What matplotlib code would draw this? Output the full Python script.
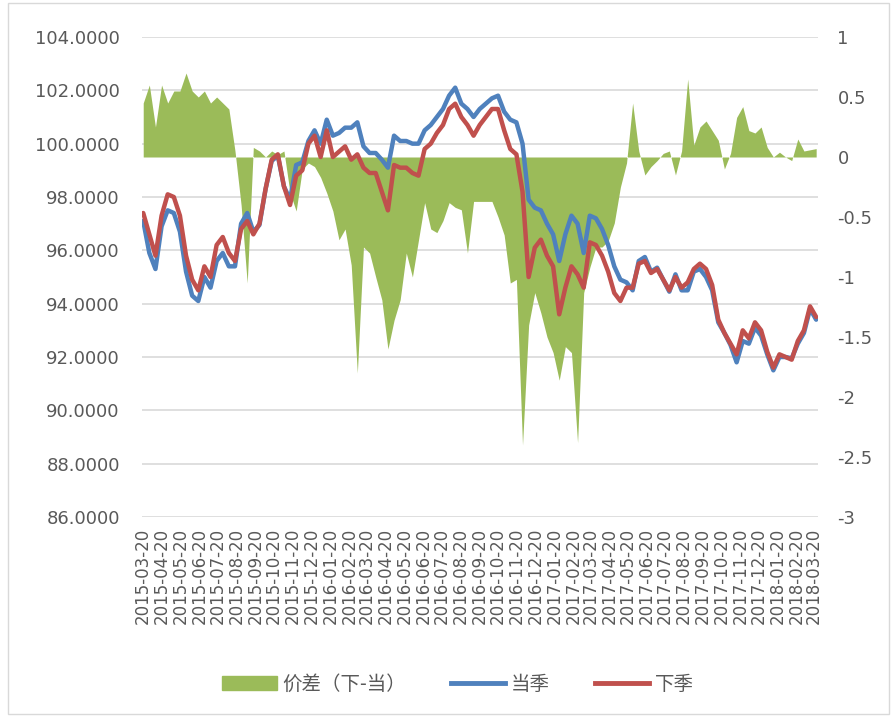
import numpy as np
import pandas as pd
import matplotlib
matplotlib.use("Agg")
import matplotlib.pyplot as plt
from matplotlib.patches import Patch, Rectangle
from matplotlib.lines import Line2D
from matplotlib.ticker import FuncFormatter

plt.rcParams['font.family'] = ['DejaVu Sans']
plt.rcParams['axes.unicode_minus'] = False

# sampling dates (every 10 days)
dates = pd.date_range('2015-03-20', periods=111, freq='10D')

# 下季 (next-quarter contract)
xia_ji = [97.4, 96.6, 95.8, 97.3, 98.1, 98.0, 97.3, 95.8, 94.9, 94.5,
          95.4, 95.0, 96.2, 96.5, 95.9, 95.6, 96.8, 97.1, 96.6, 97.0,
          98.3, 99.4, 99.6, 98.4, 97.7, 98.8, 99.0, 100.0, 100.3, 99.5,
          100.5, 99.5, 99.7, 99.9, 99.4, 99.6, 99.1, 98.9, 98.9, 98.2,
          97.5, 99.2, 99.1, 99.1, 98.9, 98.8, 99.8, 100.0, 100.4, 100.7,
          101.3, 101.5, 101.0, 100.7, 100.3, 100.7, 101.0, 101.3, 101.3, 100.5,
          99.8, 99.6, 98.2, 95.0, 96.1, 96.4, 95.8, 95.4, 93.6, 94.6,
          95.4, 95.1, 94.6, 96.3, 96.2, 95.8, 95.2, 94.4, 94.1, 94.6,
          94.6, 95.5, 95.6, 95.15, 95.3, 94.9, 94.5, 95.0, 94.6, 94.8,
          95.3, 95.5, 95.3, 94.7, 93.4, 92.9, 92.5, 92.1, 93.0, 92.7,
          93.3, 93.0, 92.2, 91.6, 92.1, 92.0, 91.9, 92.6, 93.0, 93.9,
          93.5]

# 当季 (current-quarter contract)
dang_ji = [97.1, 95.9, 95.3, 96.9, 97.5, 97.4, 96.7, 95.2, 94.3, 94.1,
           95.0, 94.6, 95.6, 95.9, 95.4, 95.4, 97.0, 97.4, 96.7, 96.95,
           98.3, 99.35, 99.55, 98.4, 97.9, 99.2, 99.3, 100.1, 100.5, 100.0,
           100.9, 100.3, 100.4, 100.6, 100.6, 100.8, 99.9, 99.65, 99.65, 99.4,
           99.1, 100.3, 100.1, 100.1, 100.0, 100.0, 100.5, 100.7, 101.0, 101.3,
           101.8, 102.1, 101.5, 101.3, 101.0, 101.3, 101.5, 101.7, 101.8, 101.2,
           100.9, 100.8, 100.0, 97.9, 97.6, 97.5, 97.0, 96.6, 95.6, 96.6,
           97.3, 97.0, 95.9, 97.3, 97.2, 96.8, 96.2, 95.4, 94.9, 94.8,
           94.5, 95.6, 95.75, 95.2, 95.35, 94.9, 94.45, 95.1, 94.5, 94.5,
           95.2, 95.3, 95.0, 94.5, 93.3, 92.9, 92.45, 91.8, 92.6, 92.5,
           93.1, 92.8, 92.1, 91.5, 92.0, 92.0, 91.95, 92.5, 92.9, 93.8,
           93.4]

# 价差（下-当） spread, right axis
spread = [0.45, 0.6, 0.25, 0.6, 0.45, 0.55, 0.55, 0.7, 0.55, 0.5,
          0.55, 0.45, 0.5, 0.45, 0.4, 0.05, -0.4, -1.05, 0.08, 0.05,
          0.0, 0.05, 0.02, 0.05, -0.3, -0.45, -0.1, -0.05, -0.08, -0.17,
          -0.3, -0.45, -0.69, -0.6, -0.9, -1.8, -0.75, -0.8, -1.0, -1.19,
          -1.6, -1.36, -1.19, -0.8, -1.0, -0.69, -0.38, -0.6, -0.63, -0.53,
          -0.38, -0.42, -0.44, -0.8, -0.37, -0.37, -0.37, -0.37, -0.5, -0.65,
          -1.05, -1.02, -2.4, -1.4, -1.13, -1.3, -1.5, -1.63, -1.86, -1.58,
          -1.63, -2.38, -1.13, -0.92, -0.75, -0.75, -0.7, -0.55, -0.25, -0.05,
          0.45, 0.05, -0.15, -0.08, -0.03, 0.03, 0.05, -0.15, 0.05, 0.65,
          0.1, 0.25, 0.3, 0.22, 0.14, -0.1, 0.03, 0.33, 0.42, 0.22,
          0.2, 0.25, 0.08, 0.0, 0.04, 0.0, -0.03, 0.15, 0.05, 0.06,
          0.07]

tick_dates = pd.date_range('2015-03-01', '2018-03-01', freq='MS') + pd.Timedelta(days=19)
tick_labels = [d.strftime('%Y-%m-%d') for d in tick_dates]

green = '#9BBB59'
blue = '#4F81BD'
red = '#C0504D'
grey = '#595959'

fig = plt.figure(figsize=(8.93, 7.17), dpi=100)
rect = [142 / 893, 1 - 517 / 717, (818 - 142) / 893, (517 - 37) / 717]

# left axis: ticks + grid
ax1 = fig.add_axes(rect)
ax1.set_ylim(86, 104)
ax1.set_yticks(np.arange(86, 104.1, 2))
ax1.yaxis.set_major_formatter(FuncFormatter(lambda v, p: f'{v:.4f}'))
ax1.grid(axis='y', color='#D9D9D9', lw=1.2)
ax1.set_axisbelow(True)
ax1.tick_params(axis='y', length=0, pad=16, labelsize=13, labelcolor=grey)
ax1.set_zorder(0)

# right axis: spread area
ax2 = ax1.twinx()
ax2.fill_between(dates, 0, spread, color=green, lw=0)
ax2.set_ylim(-3, 1)
ax2.set_yticks(np.arange(-3, 1.01, 0.5))
ax2.yaxis.set_major_formatter(FuncFormatter(lambda v, p: f'{v:g}'))
ax2.tick_params(axis='y', length=0, pad=14, labelsize=13, labelcolor=grey)
ax2.set_zorder(1)
ax2.patch.set_visible(False)

# lines on top
ax3 = fig.add_axes(rect, sharex=ax1, sharey=ax1)
ax3.plot(dates, dang_ji, color=blue, lw=3.2, solid_capstyle='round')
ax3.plot(dates, xia_ji, color=red, lw=3.2, solid_capstyle='round')
ax3.set_zorder(2)
ax3.patch.set_visible(False)
ax3.axis('off')

ax1.set_xlim(pd.Timestamp('2015-03-18'), pd.Timestamp('2018-03-27'))
ax1.set_xticks(tick_dates)
ax1.set_xticklabels(tick_labels, rotation=90, fontsize=12, color=grey)
ax1.tick_params(axis='x', length=0, pad=8)

for a in (ax1, ax2, ax3):
    for s in a.spines.values():
        s.set_visible(False)

handles = [Patch(color=green), Line2D([], [], color=blue, lw=3.5),
           Line2D([], [], color=red, lw=3.5)]
labels = ['价差（下-当）', '当季', '下季']
fig.legend(handles, labels, loc='center', bbox_to_anchor=(0.513, 1 - 684 / 717),
           ncol=3, frameon=False, handlelength=2.8, columnspacing=2.3,
           handletextpad=0.3,
           prop={'family': ['Noto Sans CJK SC', 'DejaVu Sans'], 'size': 14})
for t in fig.legends[0].get_texts():
    t.set_color(grey)

fig.patches.append(Rectangle((8 / 893, 3 / 717), 881 / 893, 711 / 717,
                             transform=fig.transFigure, fill=False,
                             edgecolor='#D9D9D9', lw=1))

fig.savefig('out.png', dpi=100)
